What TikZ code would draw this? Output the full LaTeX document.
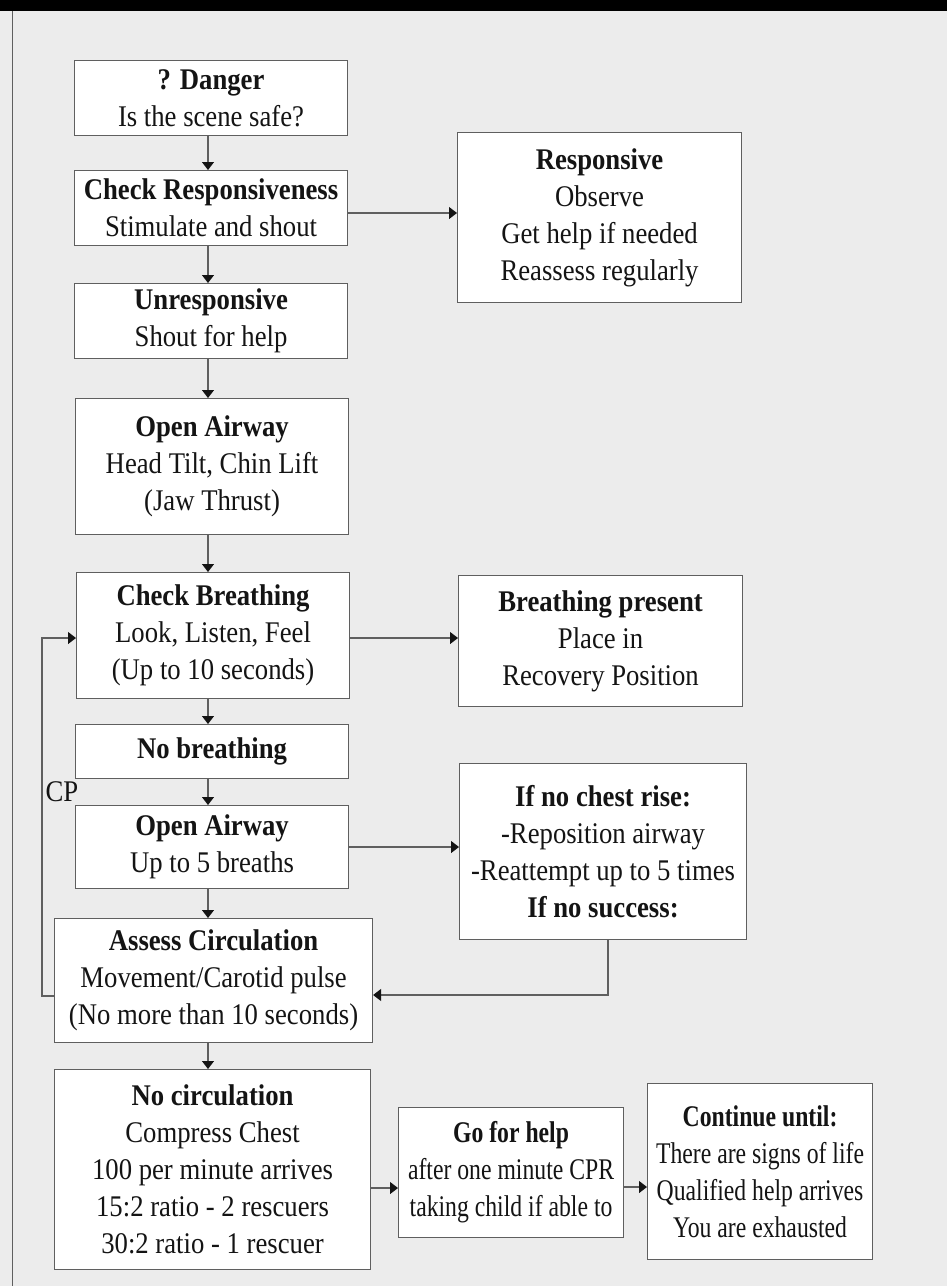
\documentclass[tikz,border=0pt]{standalone}
\usepackage{fontspec}
\setmainfont{Liberation Serif}[FakeStretch=0.89]
\newfontfamily\narrowserif{Liberation Serif}[FakeStretch=0.79]
\usetikzlibrary{arrows.meta}
\definecolor{pagebg}{RGB}{236,236,236}
\definecolor{boxline}{RGB}{95,95,95}
\definecolor{ink}{RGB}{20,20,20}
\tikzset{
  fbox/.style={draw=boxline, fill=white, line width=1.1pt, inner sep=0pt, align=center,
    text=ink, anchor=north west, font=\fontsize{30}{37}\selectfont},
  nbox/.style={fbox, font=\narrowserif\fontsize{30}{37}\selectfont},
  lbl/.style={text=ink, inner sep=0pt, font=\fontsize{30}{37}\selectfont},
  conn/.style={draw=boxline, line width=1.1pt, -{Triangle[length=8pt,width=12pt,color=ink]}},
}
\begin{document}
\begin{tikzpicture}[x=1pt,y=-1pt]
\fill[pagebg] (0,0) rectangle (947,1286);
\useasboundingbox (0,0) rectangle (947,1286);
\fill[black] (0,0) rectangle (947,11);
\draw[boxline, line width=1pt] (12,11) -- (12,1286);

\node[fbox, minimum width=273pt, minimum height=75pt] (danger) at (74,60) {\textbf{? Danger}\\Is the scene safe?};
\node[fbox, minimum width=273pt, minimum height=75pt] (cr) at (74,170) {\textbf{Check Responsiveness}\\Stimulate and shout};
\node[fbox, minimum width=284pt, minimum height=170pt] (resp) at (457,132) {\textbf{Responsive}\\Observe\\Get help if needed\\Reassess regularly};
\node[fbox, minimum width=273pt, minimum height=75pt] (unresp) at (74,283) {\textbf{Unresponsive}\\Shout for help};
\node[fbox, minimum width=273pt, minimum height=136pt] (oa1) at (75,398) {\textbf{Open Airway}\\Head Tilt, Chin Lift\\(Jaw Thrust)};
\node[fbox, minimum width=273pt, minimum height=126pt] (cb) at (76,572) {\textbf{Check Breathing}\\Look, Listen, Feel\\(Up to 10 seconds)};
\node[fbox, minimum width=284pt, minimum height=131pt] (bp) at (458,575) {\textbf{Breathing present}\\Place in\\Recovery Position};
\node[fbox, minimum width=273pt, minimum height=54pt] (nb) at (75,724) {\textbf{No breathing}};
\node[fbox, minimum width=273pt, minimum height=83pt] (oa2) at (75,805) {\textbf{Open Airway}\\Up to 5 breaths};
\node[fbox, minimum width=287pt, minimum height=176pt] (ncr) at (459,763) {\textbf{If no chest rise:}\\-Reposition airway\\-Reattempt up to 5 times\\\textbf{If no success:}};
\node[fbox, minimum width=318pt, minimum height=124pt] (ac) at (54,918) {\textbf{Assess Circulation}\\Movement/Carotid pulse\\(No more than 10 seconds)};
\node[fbox, minimum width=316pt, minimum height=200pt] (nc) at (54,1069) {\textbf{No circulation}\\Compress Chest\\100 per minute arrives\\15:2 ratio - 2 rescuers\\30:2 ratio - 1 rescuer};
\node[nbox, minimum width=225pt, minimum height=130pt] (gfh) at (398,1107) {\textbf{Go for help}\\after one minute CPR\\taking child if able to};
\node[nbox, minimum width=225pt, minimum height=176pt] (cu) at (647,1083) {\textbf{Continue until:}\\There are signs of life\\Qualified help arrives\\You are exhausted};
\node[lbl] (cp) at (62,792) {CP};

\coordinate (spine) at (208,0);
\draw[conn] (danger.south -| spine) -- (cr.north -| spine);
\draw[conn] (cr.south -| spine) -- (unresp.north -| spine);
\draw[conn] (unresp.south -| spine) -- (oa1.north -| spine);
\draw[conn] (oa1.south -| spine) -- (cb.north -| spine);
\draw[conn] (cb.south -| spine) -- (nb.north -| spine);
\draw[conn] (nb.south -| spine) -- (oa2.north -| spine);
\draw[conn] (oa2.south -| spine) -- (ac.north -| spine);
\draw[conn] (ac.south -| spine) -- (nc.north -| spine);

\coordinate (yresp) at (0,213);
\draw[conn] (cr.east |- yresp) -- (resp.west |- yresp);
\coordinate (ybp) at (0,638);
\draw[conn] (cb.east |- ybp) -- (bp.west |- ybp);
\coordinate (yncr) at (0,847);
\draw[conn] (oa2.east |- yncr) -- (ncr.west |- yncr);
\coordinate (ygfh) at (0,1188);
\draw[conn] (nc.east |- ygfh) -- (gfh.west |- ygfh);
\coordinate (ycu) at (0,1187);
\draw[conn] (gfh.east |- ycu) -- (cu.west |- ycu);

\coordinate (turn) at (608,995);
\draw[conn] (ncr.south -| turn) -- (turn) -- (ac.east |- turn);

\coordinate (loopA) at (42,996);
\coordinate (loopB) at (42,638);
\draw[conn] (ac.west |- loopA) -- (loopA) -- (loopB) -- (cb.west |- loopB);
\end{tikzpicture}
\end{document}
